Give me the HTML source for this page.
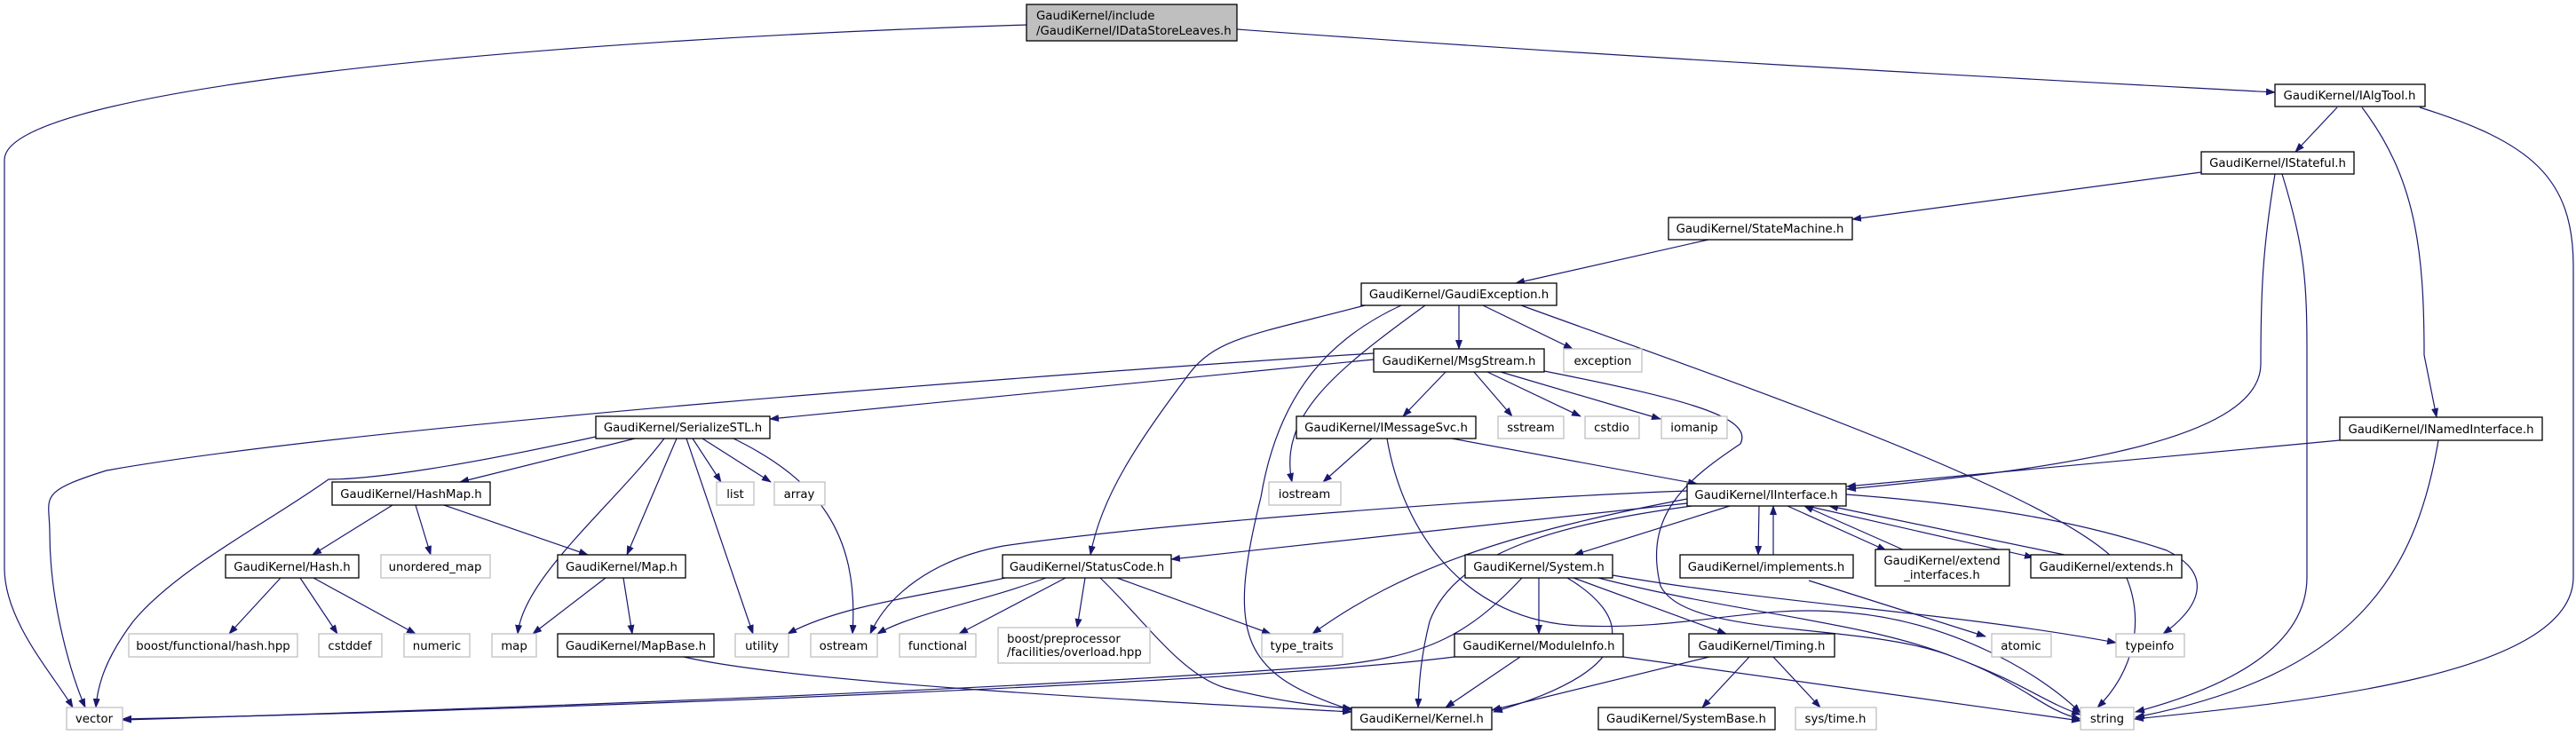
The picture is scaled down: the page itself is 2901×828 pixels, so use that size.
<!DOCTYPE html>
<html><head><meta charset="utf-8"><style>
html,body{margin:0;padding:0;background:#fff;}
svg{display:block;}
text{font-family:"DejaVu Sans","Liberation Sans",sans-serif;font-size:13.3px;fill:#000;}
.n{fill:#fff;stroke:#000;stroke-width:1.3;}
.x{fill:#fff;stroke:#bfbfbf;stroke-width:1.3;}
.e{fill:none;stroke:#191970;stroke-width:1.2;marker-end:url(#a);}
</style></head><body>
<svg width="2901" height="828" viewBox="0 0 2901 828" xmlns="http://www.w3.org/2000/svg">
<defs><marker id="a" markerWidth="11" markerHeight="8" refX="10" refY="4" orient="auto" markerUnits="userSpaceOnUse"><path d="M0,0L11,4L0,8z" fill="#191970"/></marker></defs>

<!-- edges -->
<path class="e" d="M1156,28 C600,45 5,100 5,180 L5,640 C5,700 60,760 82,797"/>
<path class="e" d="M1393,33 C1900,70 2400,95 2562,104"/>
<path class="e" d="M2632,121 L2585,171"/>
<path class="e" d="M2660,121 C2720,200 2730,280 2730,400 L2744,470"/>
<path class="e" d="M2725,121 C2850,160 2898,200 2898,300 L2898,650 C2898,760 2600,790 2404,810"/>
<path class="e" d="M2479,194 L2086,247"/>
<path class="e" d="M2562,196 C2548,280 2546,330 2546,410 C2546,500 2300,530 2080,551"/>
<path class="e" d="M2570,196 C2596,280 2598,320 2598,400 L2598,650 C2598,750 2450,790 2405,802"/>
<path class="e" d="M1924,270 L1707,319"/>
<path class="e" d="M2635,496 L2080,548"/>
<path class="e" d="M2746,496 C2720,650 2650,760 2405,808"/>
<path class="e" d="M1643,344 L1643,393"/>
<path class="e" d="M1670,344 L1771,393"/>
<path class="e" d="M1713,344 C1950,430 2330,560 2390,640 C2420,700 2400,760 2362,797"/>
<path class="e" d="M1537,344 C1420,375 1370,380 1340,420 C1280,500 1240,560 1228,625"/>
<path class="e" d="M1578,344 C1500,380 1440,440 1420,560 C1380,720 1400,760 1522,800"/>
<path class="e" d="M1605,344 C1500,420 1440,470 1455,543"/>
<path class="e" d="M1547,398 C1200,420 400,480 120,530 C40,555 56,560 56,600 C56,680 80,760 96,797"/>
<path class="e" d="M1547,405 L867,472"/>
<path class="e" d="M1628,419 L1580,469"/>
<path class="e" d="M1660,419 L1703,469"/>
<path class="e" d="M1675,419 L1780,469"/>
<path class="e" d="M1690,419 L1870,472"/>
<path class="e" d="M1739,418 C1900,450 1975,470 1960,500 C1900,540 1850,580 1870,660 C1900,720 2100,700 2200,740 C2280,770 2300,790 2343,805"/>
<path class="e" d="M671,492 C520,525 420,540 370,540 C300,590 200,640 150,700 C120,740 110,770 108,797"/>
<path class="e" d="M715,494 L518,543"/>
<path class="e" d="M748,494 C690,570 590,650 583,714"/>
<path class="e" d="M762,494 L706,625"/>
<path class="e" d="M773,494 L848,714"/>
<path class="e" d="M780,494 L812,543"/>
<path class="e" d="M791,494 L868,543"/>
<path class="e" d="M826,494 C920,540 968,600 960,714"/>
<path class="e" d="M442,569 L352,625"/>
<path class="e" d="M468,569 L485,625"/>
<path class="e" d="M500,569 L662,625"/>
<path class="e" d="M316,651 L258,714"/>
<path class="e" d="M338,651 L380,714"/>
<path class="e" d="M353,651 L468,714"/>
<path class="e" d="M682,651 L600,714"/>
<path class="e" d="M702,651 L712,714"/>
<path class="e" d="M770,740 C900,770 1300,790 1522,802"/>
<path class="e" d="M1638,740 C1400,770 600,800 138,810"/>
<path class="e" d="M1712,740 L1628,797"/>
<path class="e" d="M1828,740 L2343,812"/>
<path class="e" d="M1714,651 C1650,720 1600,740 1500,750 C1100,780 500,800 138,811"/>
<path class="e" d="M1733,651 L1733,714"/>
<path class="e" d="M1765,651 C1830,690 1860,750 1682,802"/>
<path class="e" d="M1772,651 L1944,714"/>
<path class="e" d="M1800,651 C1950,690 2100,700 2200,740 C2280,770 2300,800 2343,810"/>
<path class="e" d="M1816,648 C2000,680 2200,690 2383,724"/>
<path class="e" d="M1900,567 L1319,630"/>
<path class="e" d="M1900,553 C1700,560 1300,590 1130,615 C1050,630 1000,670 980,714"/>
<path class="e" d="M1900,562 C1700,600 1580,640 1478,714"/>
<path class="e" d="M1905,570 C1760,590 1640,620 1610,700 C1600,740 1598,770 1597,797"/>
<path class="e" d="M1948,570 L1773,625"/>
<path class="e" d="M1981,570 L1980,625"/>
<path class="e" d="M1997,625 L1997,570"/>
<path class="e" d="M2013,570 L2124,620"/>
<path class="e" d="M2145,620 L2032,570"/>
<path class="e" d="M2035,570 L2290,628"/>
<path class="e" d="M2325,625 L2060,570"/>
<path class="e" d="M2079,557 C2250,570 2350,590 2440,620 C2500,650 2470,690 2436,714"/>
<path class="e" d="M2037,654 L2236,717"/>
<path class="e" d="M1132,651 C1050,670 950,680 887,714"/>
<path class="e" d="M1178,651 C1100,680 1030,690 988,714"/>
<path class="e" d="M1200,651 L1080,714"/>
<path class="e" d="M1222,651 L1213,707"/>
<path class="e" d="M1239,651 C1290,700 1330,760 1380,775 C1440,790 1480,795 1522,798"/>
<path class="e" d="M1258,651 L1431,714"/>
<path class="e" d="M1925,740 L1680,800"/>
<path class="e" d="M1970,740 L1917,797"/>
<path class="e" d="M1997,740 L2050,797"/>
<path class="e" d="M1545,494 L1490,543"/>
<path class="e" d="M1635,494 L1911,545"/>
<path class="e" d="M1562,494 C1580,600 1650,700 1780,705 C1900,710 1980,680 2080,690 C2200,700 2300,760 2343,803"/>

<!-- nodes -->
<rect x="1156" y="5" width="237" height="41" fill="#bfbfbf" stroke="#000" stroke-width="1.3"/>
<text x="1167" y="22">GaudiKernel/include</text>
<text x="1167" y="39">/GaudiKernel/IDataStoreLeaves.h</text>

<g text-anchor="middle">
<rect class="n" x="2562" y="95" width="169" height="25"/><text x="2646" y="112">GaudiKernel/IAlgTool.h</text>
<rect class="n" x="2479" y="171" width="172" height="25"/><text x="2565" y="188">GaudiKernel/IStateful.h</text>
<rect class="n" x="1879" y="245" width="207" height="25"/><text x="1982" y="262">GaudiKernel/StateMachine.h</text>
<rect class="n" x="1533" y="319" width="220" height="25"/><text x="1643" y="336">GaudiKernel/GaudiException.h</text>
<rect class="n" x="1547" y="393" width="192" height="26"/><text x="1643" y="411">GaudiKernel/MsgStream.h</text>
<rect class="x" x="1761" y="393" width="88" height="26"/><text x="1805" y="411">exception</text>
<rect class="n" x="671" y="469" width="196" height="25"/><text x="769" y="486">GaudiKernel/SerializeSTL.h</text>
<rect class="n" x="1460" y="469" width="202" height="25"/><text x="1561" y="486">GaudiKernel/IMessageSvc.h</text>
<rect class="x" x="1687" y="469" width="74" height="25"/><text x="1724" y="486">sstream</text>
<rect class="x" x="1785" y="469" width="61" height="25"/><text x="1815" y="486">cstdio</text>
<rect class="x" x="1871" y="469" width="74" height="25"/><text x="1908" y="486">iomanip</text>
<rect class="n" x="2635" y="470" width="228" height="26"/><text x="2749" y="488">GaudiKernel/INamedInterface.h</text>
<rect class="n" x="374" y="543" width="178" height="26"/><text x="463" y="561">GaudiKernel/HashMap.h</text>
<rect class="x" x="807" y="543" width="42" height="26"/><text x="828" y="561">list</text>
<rect class="x" x="872" y="543" width="57" height="26"/><text x="900" y="561">array</text>
<rect class="x" x="1429" y="543" width="81" height="26"/><text x="1469" y="561">iostream</text>
<rect class="n" x="1900" y="545" width="179" height="25"/><text x="1989" y="562">GaudiKernel/IInterface.h</text>
<rect class="n" x="254" y="625" width="150" height="26"/><text x="329" y="643">GaudiKernel/Hash.h</text>
<rect class="x" x="429" y="625" width="123" height="26"/><text x="490" y="643">unordered_map</text>
<rect class="n" x="628" y="625" width="144" height="26"/><text x="700" y="643">GaudiKernel/Map.h</text>
<rect class="n" x="1129" y="625" width="190" height="26"/><text x="1224" y="643">GaudiKernel/StatusCode.h</text>
<rect class="n" x="1650" y="625" width="166" height="26"/><text x="1733" y="643">GaudiKernel/System.h</text>
<rect class="n" x="1892" y="625" width="195" height="26"/><text x="1989" y="643">GaudiKernel/implements.h</text>
<rect class="n" x="2112" y="619" width="151" height="41"/><text x="2187" y="636">GaudiKernel/extend</text><text x="2187" y="652">_interfaces.h</text>
<rect class="n" x="2287" y="625" width="170" height="26"/><text x="2372" y="643">GaudiKernel/extends.h</text>
<rect class="x" x="145" y="714" width="190" height="26"/><text x="240" y="732">boost/functional/hash.hpp</text>
<rect class="x" x="359" y="714" width="71" height="26"/><text x="394" y="732">cstddef</text>
<rect class="x" x="455" y="714" width="74" height="26"/><text x="492" y="732">numeric</text>
<rect class="x" x="554" y="714" width="50" height="26"/><text x="579" y="732">map</text>
<rect class="n" x="628" y="714" width="176" height="26"/><text x="716" y="732">GaudiKernel/MapBase.h</text>
<rect class="x" x="828" y="714" width="60" height="26"/><text x="858" y="732">utility</text>
<rect class="x" x="913" y="714" width="75" height="26"/><text x="950" y="732">ostream</text>
<rect class="x" x="1013" y="714" width="86" height="26"/><text x="1056" y="732">functional</text>
<rect class="x" x="1124" y="707" width="171" height="40"/>
<text x="1134" y="724" text-anchor="start">boost/preprocessor</text><text x="1134" y="739" text-anchor="start">/facilities/overload.hpp</text>
<rect class="x" x="1421" y="714" width="91" height="26"/><text x="1466" y="732">type_traits</text>
<rect class="n" x="1638" y="714" width="190" height="26"/><text x="1733" y="732">GaudiKernel/ModuleInfo.h</text>
<rect class="n" x="1902" y="714" width="164" height="26"/><text x="1984" y="732">GaudiKernel/Timing.h</text>
<rect class="x" x="2243" y="714" width="67" height="26"/><text x="2276" y="732">atomic</text>
<rect class="x" x="2383" y="714" width="77" height="26"/><text x="2421" y="732">typeinfo</text>
<rect class="x" x="75" y="797" width="63" height="25"/><text x="106" y="814">vector</text>
<rect class="n" x="1522" y="797" width="158" height="25"/><text x="1601" y="814">GaudiKernel/Kernel.h</text>
<rect class="n" x="1800" y="797" width="199" height="25"/><text x="1899" y="814">GaudiKernel/SystemBase.h</text>
<rect class="x" x="2022" y="797" width="91" height="25"/><text x="2067" y="814">sys/time.h</text>
<rect class="x" x="2343" y="797" width="60" height="25"/><text x="2373" y="814">string</text>
</g>
</svg>
</body></html>
